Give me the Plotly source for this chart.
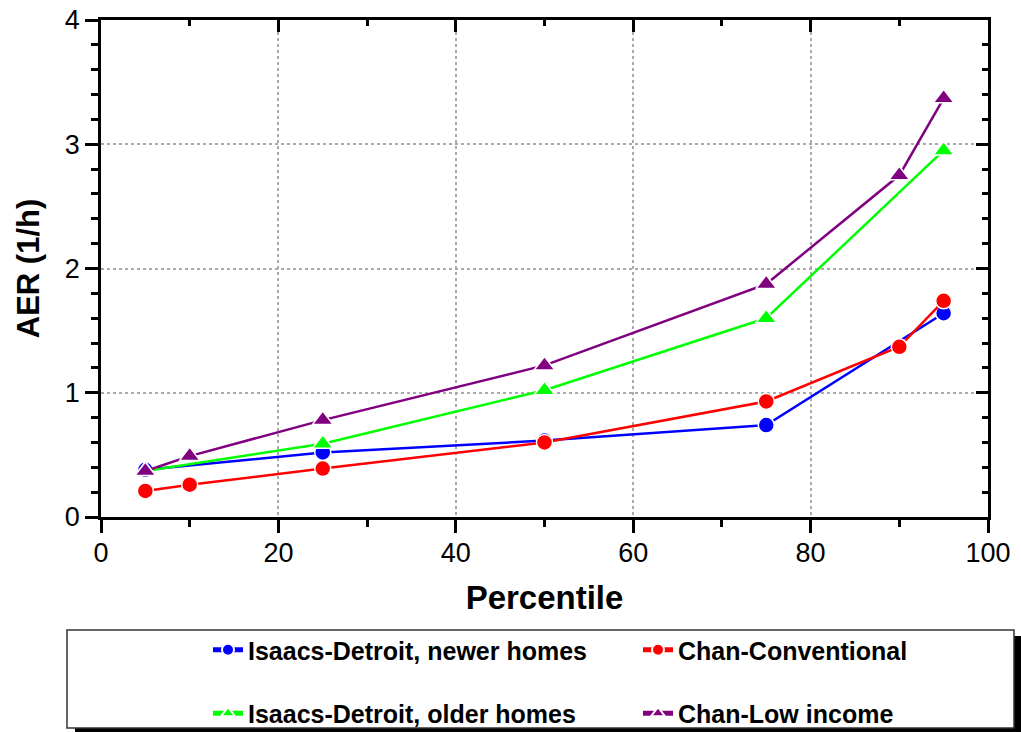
import plotly.graph_objects as go

# ---- data ----
pct_isaacs = [5, 25, 50, 75, 95]
pct_chan = [5, 10, 25, 50, 75, 90, 95]
isaacs_newer = [0.38, 0.52, 0.615, 0.74, 1.64]
isaacs_older = [0.37, 0.59, 1.02, 1.60, 2.95]
chan_conv = [0.21, 0.26, 0.39, 0.60, 0.93, 1.37, 1.74]
chan_low = [0.37, 0.49, 0.78, 1.22, 1.875, 2.75, 3.37]

FONT = "Arial, Liberation Sans, sans-serif"

fig = go.Figure()

def add(x, y, name, color, symbol, size, legend, group):
    fig.add_trace(go.Scatter(
        x=x, y=y, name="<b>" + name + "</b>", mode="lines+markers",
        line=dict(color=color, width=2.5),
        marker=dict(color=color, symbol=symbol, size=size,
                    line=dict(color="white", width=1.5)),
        legend=legend, legendgroup=group,
    ))

add(pct_isaacs, isaacs_newer, "Isaacs-Detroit, newer homes", "#0000FF", "circle", 16, "legend", "a")
add(pct_chan, chan_conv, "Chan-Conventional", "#FF0000", "circle", 16, "legend2", "c")
add(pct_isaacs, isaacs_older, "Isaacs-Detroit, older homes", "#00FF00", "triangle-up", 18, "legend", "b")
add(pct_chan, chan_low, "Chan-Low income", "#800080", "triangle-up", 18, "legend2", "d")

# invisible trace to make mirrored (inward-tick) axes appear
fig.add_trace(go.Scatter(x=pct_isaacs, y=isaacs_newer, xaxis="x2", yaxis="y2",
                         mode="markers", marker=dict(opacity=0), showlegend=False,
                         hoverinfo="skip"))

axis_common = dict(showline=True, linecolor="black", linewidth=2.5,
                   tickcolor="black", tickwidth=2.5, zeroline=False)

fig.update_layout(
    width=1021, height=732,
    margin=dict(l=101, r=33, t=20, b=215, autoexpand=False),
    paper_bgcolor="white", plot_bgcolor="white",
    font=dict(family=FONT, color="black"),
    xaxis=dict(range=[0, 100], dtick=20, tick0=0, ticks="outside", ticklen=13,
               showgrid=True, gridcolor="#aaaaaa", griddash="dot", gridwidth=1.5,
               tickfont=dict(size=27, family=FONT), ticklabelstandoff=-3,
               minor=dict(dtick=10, ticks="outside", ticklen=7, tickwidth=2.5,
                          tickcolor="black", showgrid=False),
               title=dict(text="<b>Percentile</b>", font=dict(size=33, family=FONT), standoff=19),
               **axis_common),
    yaxis=dict(range=[0, 4], dtick=1, tick0=0, ticks="outside", ticklen=13,
               showgrid=True, gridcolor="#aaaaaa", griddash="dot", gridwidth=1.5,
               tickfont=dict(size=27, family=FONT),
               minor=dict(dtick=0.2, ticks="outside", ticklen=7, tickwidth=2.5,
                          tickcolor="black", showgrid=False),
               title=dict(text="<b>AER (1/h)</b>", font=dict(size=31, family=FONT), standoff=16),
               **axis_common),
    xaxis2=dict(range=[0, 100], overlaying="x", side="top", anchor="y",
                dtick=20, tick0=0, ticks="inside", ticklen=12, showticklabels=False,
                showgrid=False,
                minor=dict(dtick=10, ticks="inside", ticklen=6, tickwidth=2.5, tickcolor="black"),
                **axis_common),
    yaxis2=dict(range=[0, 4], overlaying="y", side="right", anchor="x",
                dtick=1, tick0=0, ticks="inside", ticklen=12, showticklabels=False,
                showgrid=False,
                minor=dict(dtick=0.2, ticks="inside", ticklen=6, tickwidth=2.5, tickcolor="black"),
                **axis_common),
    legend=dict(x=(208 - 101) / 887, y=(517 - 627) / 497, xanchor="left", yanchor="top",
                orientation="v", traceorder="grouped", tracegroupgap=28,
                bgcolor="rgba(0,0,0,0)", font=dict(size=25, family=FONT),
                itemsizing="constant"),
    legend2=dict(x=(638 - 101) / 887, y=(517 - 627) / 497, xanchor="left", yanchor="top",
                 orientation="v", traceorder="grouped", tracegroupgap=28,
                 bgcolor="rgba(0,0,0,0)", font=dict(size=25, family=FONT),
                 itemsizing="constant"),
    showlegend=True,
)

def px_x(p):
    return (p - 101) / 887

def px_y(p):
    return (517 - p) / 497

# legend frame shadow and box
fig.add_shape(type="rect", xref="paper", yref="paper",
              x0=px_x(75), x1=px_x(1021), y0=px_y(636), y1=px_y(735),
              fillcolor="black", line=dict(width=0), layer="below")
fig.add_shape(type="rect", xref="paper", yref="paper",
              x0=px_x(67), x1=px_x(1014), y0=px_y(630), y1=px_y(728),
              fillcolor="white", line=dict(color="#333333", width=1.5), layer="below")

fig.write_html("out.html")
